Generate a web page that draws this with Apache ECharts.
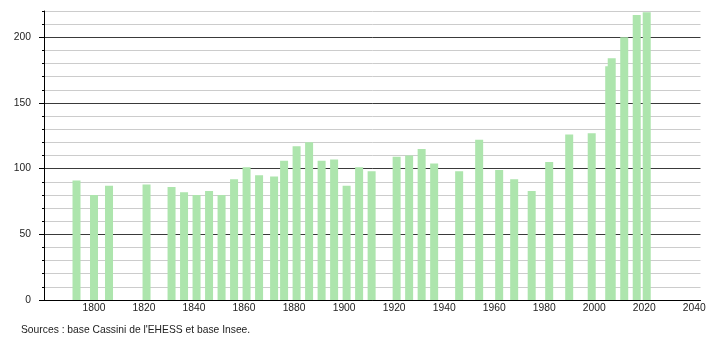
<!DOCTYPE html>
<html><head><meta charset="utf-8">
<script src="https://cdn.jsdelivr.net/npm/echarts@6/dist/echarts.min.js"></script>
<style>html,body{margin:0;padding:0;background:#fff}#c{width:710px;height:340px}</style>
</head><body><div id="c"></div>
<script>
const years = [1793,1800,1806,1821,1831,1836,1841,1846,1851,1856,1861,1866,1872,1876,1881,1886,1891,1896,1901,1906,1911,1921,1926,1931,1936,1946,1954,1962,1968,1975,1982,1990,1999,2006,2007,2012,2017,2021];
const population = [91,80,87,88,86,82,80,83,80,92,101,95,94,106,117,120,106,107,87,101,98,109,110,115,104,98,122,99,92,83,105,126,127,178,184,200,217,219];
const xTickLabels = [1800,1820,1840,1860,1880,1900,1920,1940,1960,1980,2000,2020,2040];
const yTickLabels = [0,50,100,150,200];
const sourceText = "Sources : base Cassini de l'EHESS et base Insee.";

const chart = echarts.init(document.getElementById('c'), null, {renderer: 'canvas'});
const font = '"Liberation Sans", Arial, sans-serif';
const plain = v => String(Math.round(v));
const option = {
  animation: false,
  backgroundColor: '#fff',
  grid: {left: 44, top: 11, right: 9.5, bottom: 40, containLabel: false, outerBoundsMode: 'none'},
  xAxis: {
    type: 'value', min: 1780, max: 2042.5,
    axisLine: {show: true, lineStyle: {color: '#000', width: 1}},
    axisTick: {show: false},
    splitLine: {show: false},
    axisLabel: {customValues: xTickLabels, formatter: plain, fontSize: 10.3, color: '#222', margin: 3, fontFamily: font}
  },
  yAxis: [
    {
      type: 'value', min: 0, max: 220, interval: 10, position: 'left',
      axisLine: {show: true, lineStyle: {color: '#000', width: 1}},
      axisTick: {show: true, length: 2, lineStyle: {color: '#000'}},
      axisLabel: {show: false},
      splitLine: {show: true, lineStyle: {width: 1, color: ['#3a3a3a', '#cccccc', '#cccccc', '#cccccc', '#cccccc']}}
    },
    {
      type: 'value', min: 0, max: 220, position: 'left', offset: 0,
      axisLine: {show: false},
      axisTick: {show: true, length: 5, customValues: yTickLabels, lineStyle: {color: '#000'}},
      axisLabel: {customValues: yTickLabels, formatter: plain, fontSize: 10.3, color: '#222', margin: 13, fontFamily: font},
      splitLine: {show: false}
    }
  ],
  series: [{
    type: 'bar', xAxisIndex: 0, yAxisIndex: 0,
    data: years.map((y, i) => [y, population[i]]),
    barWidth: 8,
    itemStyle: {color: '#ade5ad'}
  }],
  graphic: [{
    type: 'text', left: 21, top: 325,
    style: {text: sourceText, fontSize: 10.3, fill: '#222', fontFamily: font}
  }]
};
chart.setOption(option);
</script>
</body></html>
